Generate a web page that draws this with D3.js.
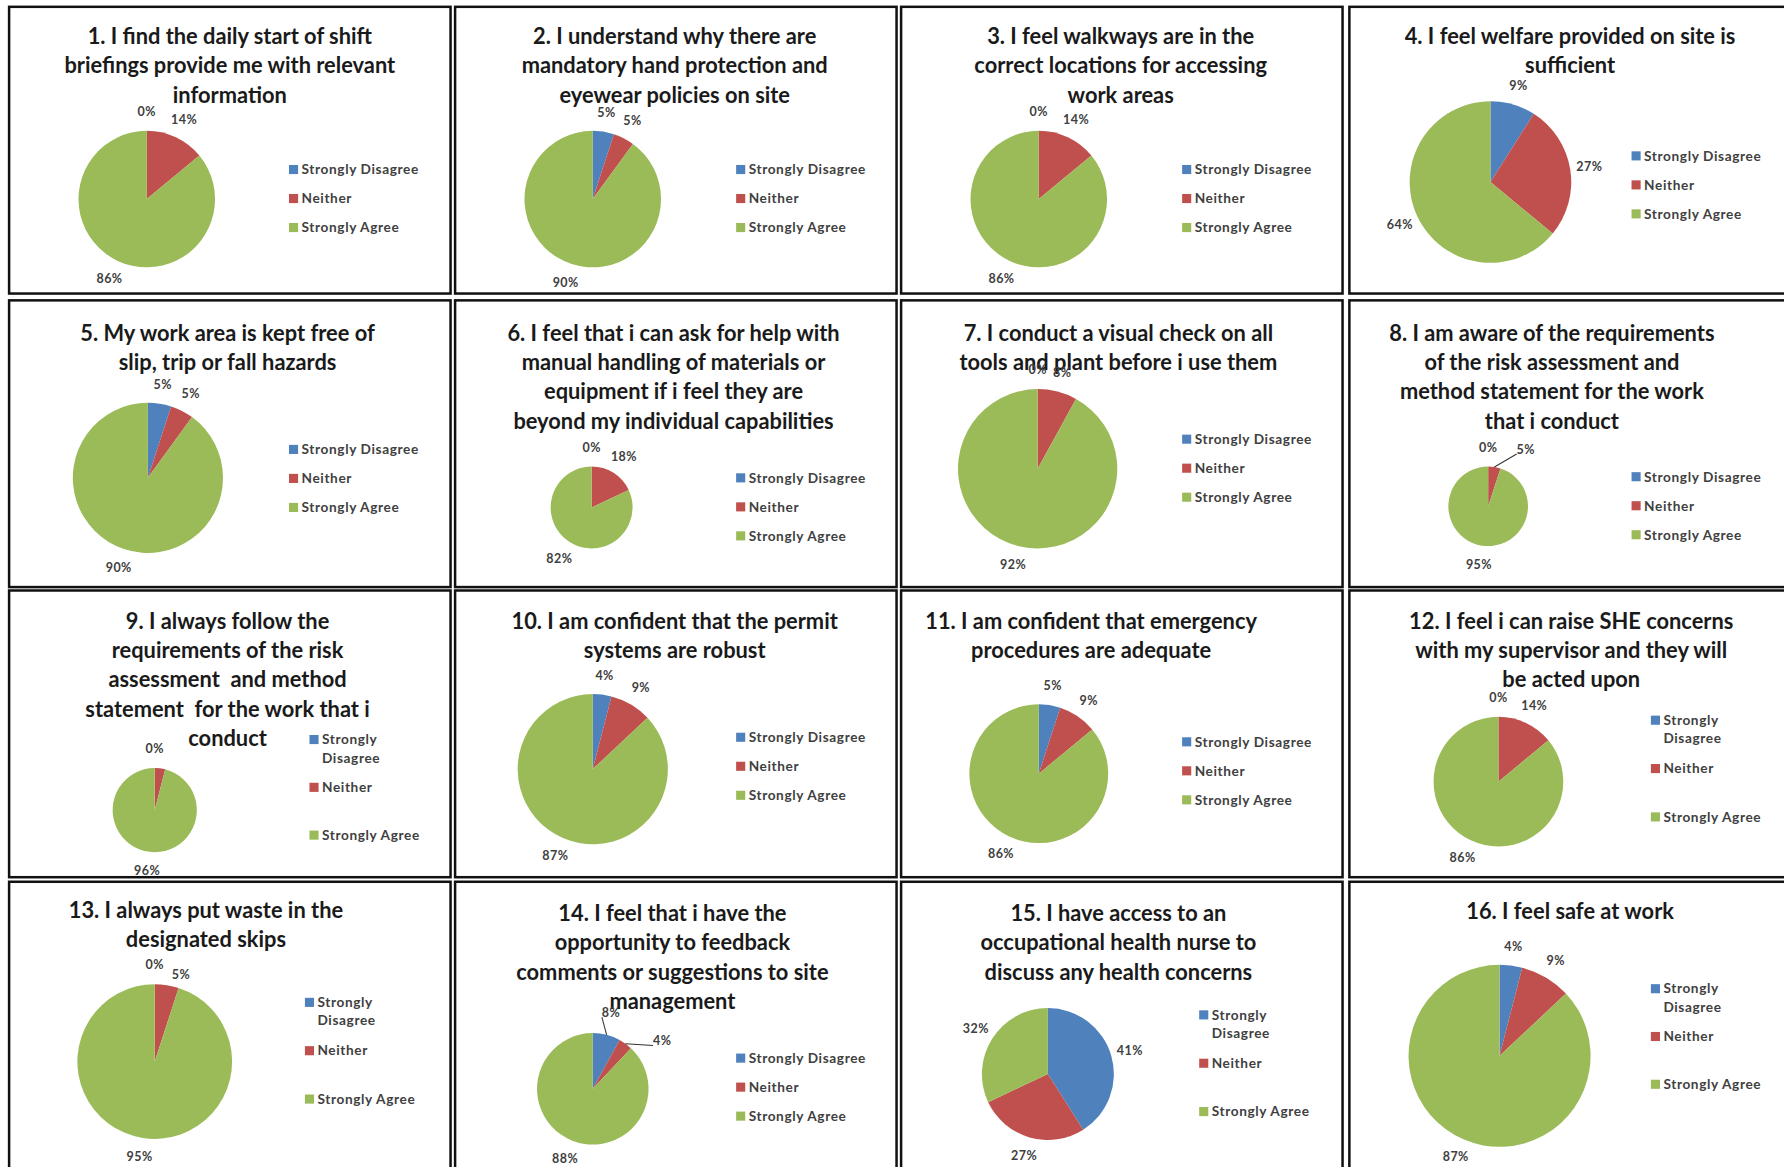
<html>
<script src="https://d3js.org/d3.v7.min.js"></script>
<style>body{margin:0;background:#fff}</style>
<body>
<script>
    var width = 1784
    var height = 1167
    var k = width / 1568   // layout below is measured on a 1568 wide copy

    var categories = ['Strongly Disagree', 'Neither', 'Strongly Agree']
    var colors = ['#4F81BD', '#C0504D', '#9BBB59']

    var stronglyDisagree = [0, 5, 0, 9, 5, 0, 0, 0, 0, 4, 5, 0, 0, 8, 41, 4]
    var neither = [14, 5, 14, 27, 5, 18, 8, 5, 4, 9, 9, 14, 5, 4, 27, 9]
    var stronglyAgree = [86, 90, 86, 64, 90, 82, 92, 95, 96, 87, 86, 86, 95, 88, 32, 87]

    var titles = [
        ['1. I find the daily start of shift', 'briefings provide me with relevant', 'information'],
        ['2. I understand why there are', 'mandatory hand protection and', 'eyewear policies on site'],
        ['3. I feel walkways are in the', 'correct locations for accessing', 'work areas'],
        ['4. I feel welfare provided on site is', 'sufficient'],
        ['5. My work area is kept free of', 'slip, trip or fall hazards'],
        ['6. I feel that i can ask for help with', 'manual handling of materials or', 'equipment if i feel they are', 'beyond my individual capabilities'],
        ['7. I conduct a visual check on all', 'tools and plant before i use them'],
        ['8. I am aware of the requirements', 'of the risk assessment and', 'method statement for the work', 'that i conduct'],
        ['9. I always follow the', 'requirements of the risk', 'assessment  and method', 'statement  for the work that i', 'conduct'],
        ['10. I am confident that the permit', 'systems are robust'],
        ['11. I am confident that emergency', 'procedures are adequate'],
        ['12. I feel i can raise SHE concerns', 'with my supervisor and they will', 'be acted upon'],
        ['13. I always put waste in the', 'designated skips'],
        ['14. I feel that i have the', 'opportunity to feedback', 'comments or suggestions to site', 'management'],
        ['15. I have access to an', 'occupational health nurse to', 'discuss any health concerns'],
        ['16. I feel safe at work']
    ]

    // panel layout (pie centre, radius, legend spot, title centre), relative to each box
    var layout = [
        {cx:121, cy:169, r:60, lx:250, ly:143, gap:25.5, tx:194, ty:26},
        {cx:121, cy:169, r:60, lx:251, ly:143, gap:25.5, tx:193, ty:26},
        {cx:121, cy:169, r:60, lx:251, ly:143, gap:25.5, tx:193, ty:26},
        {cx:124, cy:154, r:71, lx:252, ly:131, gap:25.5, tx:194, ty:26},
        {cx:122, cy:156, r:66, lx:250, ly:131, gap:25.5, tx:192, ty:29},
        {cx:120, cy:182, r:36, lx:251, ly:156, gap:25.5, tx:192, ty:29},
        {cx:120, cy:148, r:70, lx:251, ly:122, gap:25.5, tx:191, ty:29},
        {cx:122, cy:181, r:35, lx:252, ly:155, gap:25.5, tx:178, ty:29, moved:{1:[33,-50]}},
        {cx:128, cy:193, r:37, lx:268, ly:131, gap:42, tx:192, ty:27, wrap:true, hide:[1]},
        {cx:121, cy:157, r:66, lx:251, ly:129, gap:25.5, tx:193, ty:27},
        {cx:121, cy:161, r:61, lx:251, ly:133, gap:25.5, tx:167, ty:27},
        {cx:131, cy:168, r:57, lx:269, ly:114, gap:42.5, tx:195, ty:27, wrap:true},
        {cx:128, cy:158, r:68, lx:264, ly:106, gap:42.5, tx:173, ty:25, wrap:true, nudge:{1:[23,-76]}},
        {cx:121, cy:182, r:49, lx:251, ly:155, gap:25.5, tx:191, ty:28, moved:{0:[16,-67], 1:[61,-42]}},
        {cx:129, cy:169, r:58, lx:266, ly:117, gap:42.5, tx:191, ty:28, wrap:true},
        {cx:132, cy:153, r:80, lx:269, ly:94, gap:42, tx:194, ty:26, wrap:true}
    ]

    var colLeft = [8, 400, 792, 1186]
    var rowTop = [6, 264, 519, 775]
    var boxW = 388, boxH = 252

    var svg = d3.select('body').append('svg').attr('width', width).attr('height', height)
    svg.append('rect').attr('width', width).attr('height', height).attr('fill', '#fff')

    var pie = d3.pie().sort(null).value(function(d){return d.value})

    for (var i = 0; i < 16; i++) {
        drawPanel(i)
    }

    function drawPanel(i) {
        var lay = layout[i]
        var g = svg.append('g')
            .attr('transform', `translate(${colLeft[i % 4] * k}, ${rowTop[Math.floor(i / 4)] * k}) scale(${k})`)

        g.append('rect').attr('width', boxW).attr('height', boxH)
            .attr('fill', '#fff').attr('stroke', '#111').attr('stroke-width', 2.2)

        // title
        g.append('text').attr('text-anchor', 'middle')
            .attr('font-family', 'Lato, sans-serif').attr('font-weight', 'bold')
            .attr('font-size', 19.2).attr('fill', '#1a1a1a')
            .style('white-space', 'pre')
            .selectAll('tspan').data(titles[i]).enter().append('tspan')
            .attr('x', lay.tx).attr('y', function(d, j){return lay.ty + j * 25.7})
            .attr('dy', '0.35em')
            .text(function(d){return d})

        var data = [
            {cat: categories[0], value: stronglyDisagree[i]},
            {cat: categories[1], value: neither[i]},
            {cat: categories[2], value: stronglyAgree[i]}
        ]
        var arcs = pie(data)
        var arc = d3.arc().innerRadius(0).outerRadius(lay.r)
        var labelArc = d3.arc().innerRadius(lay.r + 17).outerRadius(lay.r + 17)
        var edgeArc = d3.arc().innerRadius(lay.r).outerRadius(lay.r)

        var gp = g.append('g').attr('transform', `translate(${lay.cx}, ${lay.cy})`)
        gp.selectAll('path').data(arcs).enter().append('path')
            .attr('d', arc)
            .attr('fill', function(d, j){return colors[j]})

        var moved = lay.moved || {}
        var nudge = lay.nudge || {}
        var hide = lay.hide || []
        arcs.forEach(function(d, j) {
            if (hide.indexOf(j) >= 0) return
            var p = moved[j] || nudge[j] || labelArc.centroid(d)
            if (moved[j]) {
                var e = edgeArc.centroid(d)
                gp.append('line')
                    .attr('x1', e[0]).attr('y1', e[1])
                    .attr('x2', p[0] - 8).attr('y2', p[1] + 4)
                    .attr('stroke', '#333').attr('stroke-width', 0.9)
            }
            gp.append('text')
                .attr('x', p[0]).attr('y', p[1]).attr('dy', '0.35em')
                .attr('text-anchor', 'middle')
                .attr('font-family', 'Lato, sans-serif').attr('font-weight', 'bold')
                .attr('font-size', 11).attr('letter-spacing', 0.4).attr('fill', '#404040')
                .text(d.data.value + '%')
        })

        // legend
        var gl = g.append('g').attr('transform', `translate(${lay.lx}, ${lay.ly})`)
        var item = gl.selectAll('g').data(categories).enter().append('g')
            .attr('transform', function(d, j){return `translate(0, ${j * lay.gap})`})
        item.append('rect').attr('x', -4).attr('y', -4).attr('width', 8).attr('height', 8)
            .attr('fill', function(d, j){return colors[j]})
        item.append('text')
            .attr('font-family', 'Lato, sans-serif').attr('font-weight', 'bold')
            .attr('font-size', 12).attr('letter-spacing', 0.55).attr('fill', '#404040')
            .selectAll('tspan')
            .data(function(d){return (lay.wrap && d == 'Strongly Disagree') ? ['Strongly', 'Disagree'] : [d]})
            .enter().append('tspan')
            .attr('x', 7).attr('y', function(d, j){return j * 16})
            .attr('dy', '0.35em')
            .text(function(d){return d})
    }
</script>
</body>
</html>
